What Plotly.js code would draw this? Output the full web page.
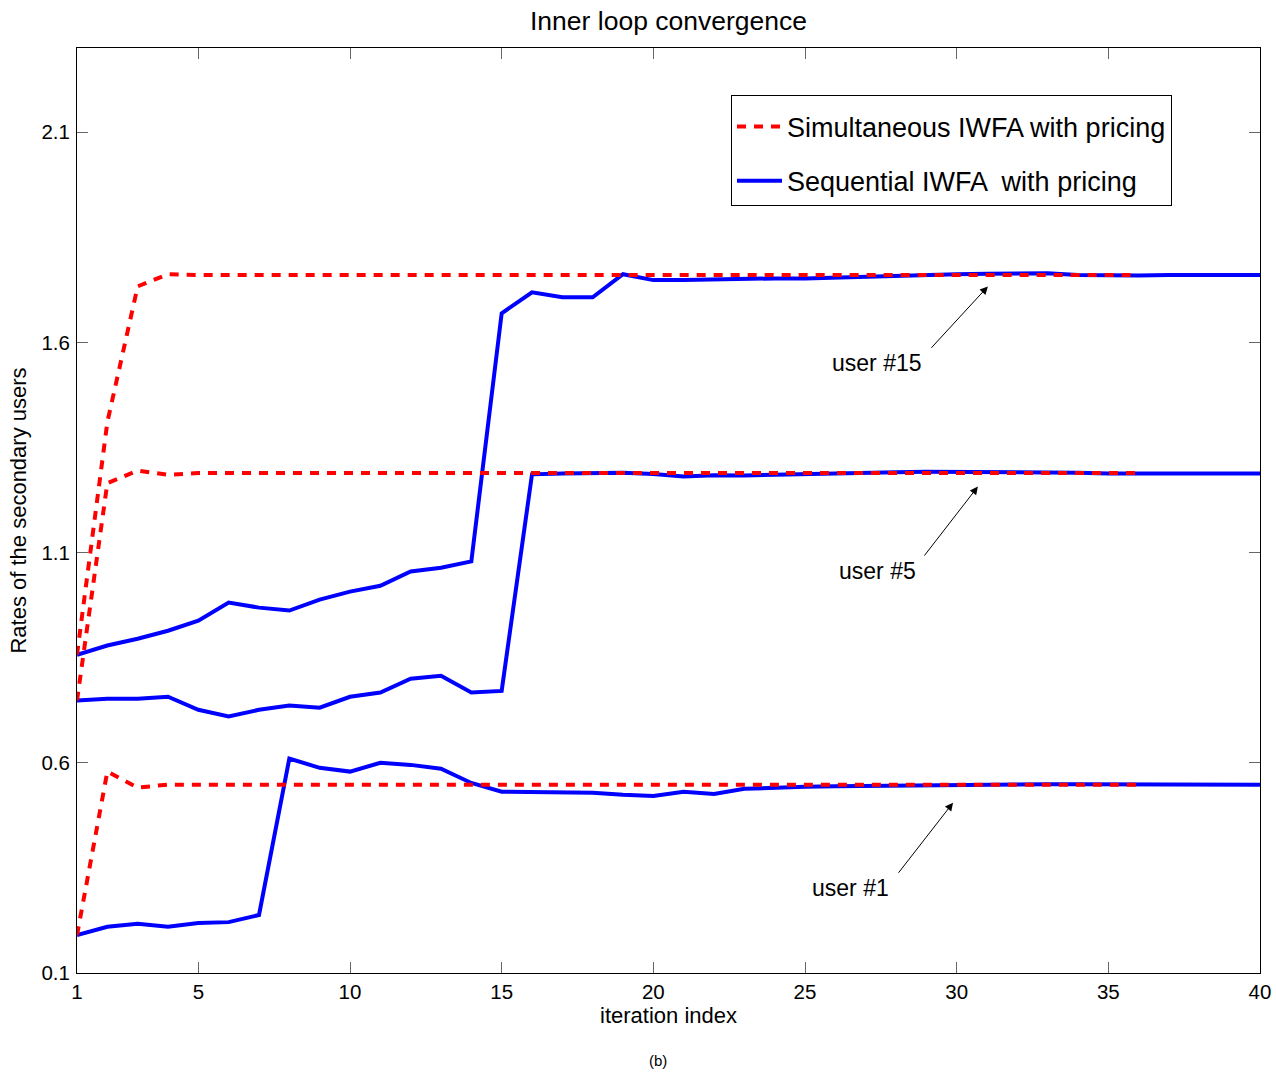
<!DOCTYPE html>
<html>
<head>
<meta charset="utf-8">
<script src="https://cdn.plot.ly/plotly-3.0.1.min.js"></script>
<style>html,body{margin:0;padding:0;background:#fff;}#chart{width:1276px;height:1072px;}</style>
</head>
<body>
<div id="chart"></div>
<script>
// iteration index
const iterSeq = [1,2,3,4,5,6,7,8,9,10,11,12,13,14,15,16,17,18,19,20,21,22,23,24,25,26,27,28,29,30,31,32,33,34,35,36,37,38,39,40];
const iterSim = [1,2,3,4,5,6,7,8,9,10,11,12,13,14,15,16,17,18,19,20,21,22,23,24,25,26,27,28,29,30,31,32,33,34,35,36];

// Sequential IWFA with pricing (blue)
const seqUser15 = [0.857,0.879,0.895,0.914,0.938,0.981,0.969,0.962,0.988,1.007,1.021,1.055,1.064,1.079,1.669,1.719,1.707,1.707,1.762,1.748,1.748,1.750,1.752,1.752,1.752,1.754,1.756,1.760,1.761,1.762,1.763,1.763,1.764,1.760,1.759,1.759,1.760,1.760,1.760,1.760];
const seqUser5  = [0.748,0.752,0.752,0.757,0.726,0.710,0.726,0.736,0.731,0.757,0.767,0.800,0.807,0.767,0.771,1.286,1.288,1.289,1.290,1.287,1.281,1.284,1.283,1.285,1.287,1.288,1.289,1.291,1.292,1.292,1.292,1.292,1.292,1.290,1.288,1.288,1.288,1.288,1.288,1.288];
const seqUser1  = [0.190,0.210,0.217,0.210,0.219,0.221,0.238,0.610,0.588,0.579,0.600,0.595,0.586,0.552,0.531,0.531,0.529,0.529,0.524,0.521,0.531,0.526,0.538,0.541,0.543,0.544,0.545,0.545,0.546,0.547,0.548,0.549,0.549,0.549,0.549,0.549,0.549,0.548,0.548,0.548];

// Simultaneous IWFA with pricing (red dashed)
const simUser15 = [0.857,1.410,1.733,1.762,1.760,1.760,1.760,1.760,1.760,1.760,1.760,1.760,1.760,1.760,1.760,1.760,1.760,1.760,1.760,1.760,1.760,1.760,1.760,1.760,1.760,1.760,1.760,1.760,1.760,1.760,1.760,1.760,1.760,1.760,1.760,1.760];
const simUser5  = [0.748,1.265,1.295,1.285,1.289,1.289,1.289,1.289,1.289,1.289,1.289,1.289,1.289,1.289,1.289,1.289,1.289,1.289,1.289,1.289,1.289,1.289,1.289,1.289,1.289,1.289,1.289,1.289,1.289,1.289,1.289,1.289,1.289,1.289,1.289,1.289];
const simUser1  = [0.190,0.579,0.541,0.548,0.548,0.548,0.548,0.548,0.548,0.548,0.548,0.548,0.548,0.548,0.548,0.548,0.548,0.548,0.548,0.548,0.548,0.548,0.548,0.548,0.548,0.548,0.548,0.548,0.548,0.548,0.548,0.548,0.548,0.548,0.548,0.548];

const xTicks = [1,5,10,15,20,25,30,35,40];
const yTicks = [0.1,0.6,1.1,1.6,2.1];
const legendNames = ['Simultaneous IWFA with pricing', 'Sequential IWFA  with pricing'];
const userLabels = ['user #15', 'user #5', 'user #1'];

const FONT = 'Liberation Sans, Arial, Helvetica, sans-serif';
const blue = '#0000ff', red = '#ff0000';

function seq(y, show) {
  return {x: iterSeq, y: y, type: 'scatter', mode: 'lines', name: legendNames[1],
    legendgroup: 'seq', legendrank: 2, showlegend: show,
    line: {color: blue, width: 4}, hoverinfo: 'skip'};
}
function sim(y, show) {
  return {x: iterSim, y: y, type: 'scatter', mode: 'lines', name: legendNames[0],
    legendgroup: 'sim', legendrank: 1, showlegend: show,
    line: {color: red, width: 4, dash: '9px,8px'}, hoverinfo: 'skip'};
}

const data = [
  seq(seqUser15, true), seq(seqUser5, false), seq(seqUser1, false),
  sim(simUser15, true), sim(simUser5, false), sim(simUser1, false)
];

function arrow(x, y, ax, ay) {
  return {x: x, y: y, xref: 'x', yref: 'y', ax: ax, ay: ay, text: ' ',
    font: {size: 1}, showarrow: true, arrowhead: 2, arrowsize: 1.6, arrowwidth: 1,
    arrowcolor: '#000', standoff: 0, startstandoff: 0};
}
function label(x, y, t) {
  return {x: x, y: y, xref: 'x', yref: 'y', text: t, showarrow: false,
    font: {family: FONT, size: 23, color: '#000'}, xanchor: 'center', yanchor: 'middle'};
}

const layout = {
  width: 1276, height: 1072,
  margin: {l: 77, r: 16, t: 48, b: 99},
  paper_bgcolor: '#fff', plot_bgcolor: '#fff',
  font: {family: FONT, color: '#000'},
  title: {text: 'Inner loop convergence', font: {family: FONT, size: 26.5, color: '#000'},
    x: 0.5, xref: 'paper', y: 1 - 21/1072, yanchor: 'middle'},
  xaxis: {range: [1, 40], tickvals: xTicks, ticktext: xTicks.map(String),
    ticks: 'inside', ticklen: 11, tickcolor: '#666', tickwidth: 1,
    showline: true, linecolor: '#000', linewidth: 1, mirror: 'allticks',
    showgrid: false, zeroline: false, ticklabelstandoff: 0,
    tickfont: {family: FONT, size: 20.5, color: '#000'},
    title: {text: 'iteration index', font: {family: FONT, size: 22, color: '#000'}, standoff: 2}},
  yaxis: {range: [0.1, 2.3], tickvals: yTicks, ticktext: yTicks.map(v => v.toFixed(1)),
    ticks: 'inside', ticklen: 11, tickcolor: '#666', tickwidth: 1,
    showline: true, linecolor: '#000', linewidth: 1, mirror: 'allticks',
    showgrid: false, zeroline: false, ticklabelstandoff: 2,
    tickfont: {family: FONT, size: 20.5, color: '#000'},
    title: {text: 'Rates of the secondary users', font: {family: FONT, size: 22, color: '#000'}, standoff: 8}},
  legend: {x: (731-77)/1183, y: 1 - (95-48)/925, xanchor: 'left', yanchor: 'top',
    bgcolor: '#fff', bordercolor: '#000', borderwidth: 1,
    font: {family: FONT, size: 27, color: '#000'},
    title: {text: ' ', font: {family: FONT, size: 5}},
    traceorder: 'grouped', tracegroupgap: 16, itemwidth: 45},
  annotations: [
    arrow(31.03, 1.733, -58, 63),
    arrow(30.70, 1.257, -55, 71),
    arrow(29.88, 0.505, -56, 72),
    label(27.38, 1.55, userLabels[0]),
    label(27.38, 1.055, userLabels[1]),
    label(26.49, 0.302, userLabels[2]),
    {x: (658-77)/1183, y: (973-1060)/925, xref: 'paper', yref: 'paper', text: '(b)',
      showarrow: false, font: {family: FONT, size: 15, color: '#000'}, xanchor: 'center', yanchor: 'middle'}
  ],
  showlegend: true
};

Plotly.newPlot('chart', data, layout, {displayModeBar: false, staticPlot: true});
</script>
</body>
</html>
